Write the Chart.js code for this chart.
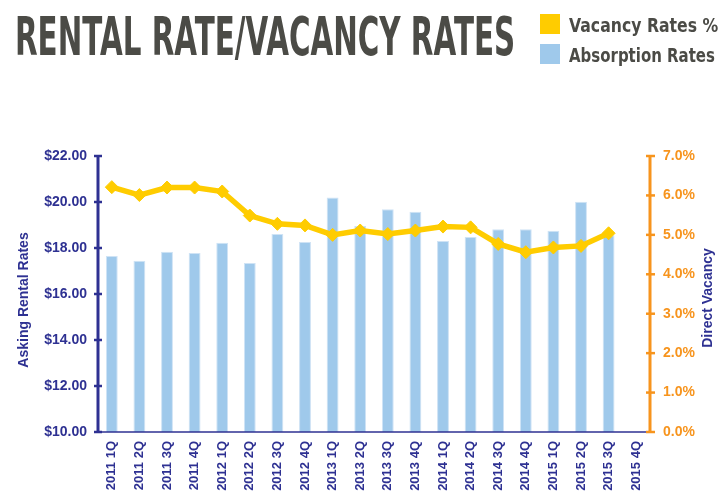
<!DOCTYPE html>
<html>
<head>
<meta charset="utf-8">
<script src="https://cdn.jsdelivr.net/npm/chart.js@4.4.1/dist/chart.umd.min.js"></script>
<style>
  html, body { margin: 0; padding: 0; background: #fff; }
  #wrap { position: relative; width: 720px; height: 491px; overflow: hidden; }
  #chart { position: absolute; left: 0; top: 0; }
  .fit { position: absolute; white-space: nowrap; transform-origin: 0 0; line-height: 1;
         font-family: "DejaVu Sans", sans-serif; font-weight: bold; color: #4b4b46; }
  .sw { position: absolute; left: 540px; width: 20px; height: 20px; }
</style>
</head>
<body>
<div id="wrap">
  <canvas id="chart" width="720" height="491"></canvas>
  <div class="fit" id="title" data-w="500" style="left:15px;top:9.7px;font-size:53.5px;">RENTAL RATE/VACANCY RATES</div>
  <div class="sw" style="top:14px;background:#ffcc00;"></div>
  <div class="sw" style="top:44px;background:#9fc9eb;"></div>
  <div class="fit" data-w="149" style="left:569px;top:15.4px;font-size:20px;">Vacancy Rates %</div>
  <div class="fit" data-w="146" style="left:569px;top:45.4px;font-size:20px;">Absorption Rates</div>
</div>
<script>
// data
const quarters = [
  '2011 1Q', '2011 2Q', '2011 3Q', '2011 4Q',
  '2012 1Q', '2012 2Q', '2012 3Q', '2012 4Q',
  '2013 1Q', '2013 2Q', '2013 3Q', '2013 4Q',
  '2014 1Q', '2014 2Q', '2014 3Q', '2014 4Q',
  '2015 1Q', '2015 2Q', '2015 3Q', '2015 4Q'
];
// asking rental rate ($) - bars on left axis
const absorptionRates = [17.65, 17.45, 17.84, 17.78, 18.23, 17.35, 18.61, 18.26, 20.20, 18.96,
                         19.68, 19.58, 18.30, 18.48, 18.81, 18.81, 18.75, 20.01, 18.55, null];
// direct vacancy (%) - line on right axis
const vacancyRates = [6.21, 6.01, 6.20, 6.20, 6.10, 5.49, 5.28, 5.24, 5.00, 5.11,
                      5.02, 5.11, 5.21, 5.19, 4.77, 4.56, 4.68, 4.72, 5.04, null];
const leftTicks = [10, 12, 14, 16, 18, 20, 22];
const rightTicks = [0, 1, 2, 3, 4, 5, 6, 7];

const NAVY = '#2e3192';
const ORANGE = '#f7941d';
const FONT = "'Liberation Sans', Arial, sans-serif";

// squeeze the html texts to the reference width (condensed look)
document.querySelectorAll('.fit').forEach(el => {
  const w = parseFloat(el.dataset.w);
  el.style.transform = 'scaleX(' + (w / el.offsetWidth) + ')';
});

// axis lines with cross ticks + axis titles
const axisPlugin = {
  id: 'axisPlugin',
  afterDatasetsDraw(chart) {
    const { ctx, chartArea: a, scales } = chart;
    ctx.save();
    // category axis
    ctx.strokeStyle = NAVY;
    ctx.lineWidth = 1.5;
    ctx.beginPath(); ctx.moveTo(a.left, a.bottom); ctx.lineTo(a.right, a.bottom); ctx.stroke();
    // left axis
    ctx.lineWidth = 3;
    ctx.beginPath(); ctx.moveTo(a.left, a.top); ctx.lineTo(a.left, a.bottom); ctx.stroke();
    ctx.lineWidth = 2.5;
    leftTicks.forEach(v => {
      const y = scales.y.getPixelForValue(v);
      ctx.beginPath(); ctx.moveTo(a.left - 4, y); ctx.lineTo(a.left + 4, y); ctx.stroke();
    });
    // right axis
    ctx.strokeStyle = ORANGE;
    ctx.lineWidth = 3;
    ctx.beginPath(); ctx.moveTo(a.right, a.top); ctx.lineTo(a.right, a.bottom); ctx.stroke();
    ctx.lineWidth = 2.5;
    rightTicks.forEach(v => {
      const y = scales.y1.getPixelForValue(v);
      ctx.beginPath(); ctx.moveTo(a.right - 4, y); ctx.lineTo(a.right + 5, y); ctx.stroke();
    });
    // titles
    ctx.fillStyle = NAVY;
    ctx.font = 'bold 14px ' + FONT;
    ctx.textAlign = 'center';
    ctx.textBaseline = 'middle';
    ctx.translate(24, 300); ctx.rotate(-Math.PI / 2);
    ctx.fillText('Asking Rental Rates', 0, 0);
    ctx.setTransform(1, 0, 0, 1, 0, 0);
    ctx.translate(708, 298); ctx.rotate(-Math.PI / 2);
    ctx.fillText('Direct Vacancy', 0, 0);
    ctx.restore();
  }
};

new Chart(document.getElementById('chart'), {
  data: {
    labels: quarters,
    datasets: [
      {
        type: 'line',
        label: 'Vacancy Rates %',
        data: vacancyRates,
        yAxisID: 'y1',
        borderColor: '#ffcc00',
        backgroundColor: '#ffcc00',
        borderWidth: 5.5,
        pointStyle: 'rectRot',
        pointRadius: 6.5,
        pointBorderWidth: 1,
        pointBorderColor: '#ffcc00',
        tension: 0,
        order: 0
      },
      {
        type: 'bar',
        label: 'Absorption Rates',
        data: absorptionRates,
        yAxisID: 'y',
        backgroundColor: '#9fc9eb',
        borderColor: '#cfe3f5',
        borderWidth: 1,
        categoryPercentage: 1,
        barPercentage: 0.43,
        order: 1
      }
    ]
  },
  options: {
    responsive: false,
    animation: false,
    layout: { padding: { top: 156, left: 0, right: 0, bottom: 0 } },
    plugins: { legend: { display: false }, tooltip: { enabled: false } },
    scales: {
      x: {
        grid: { display: false, drawTicks: false },
        border: { display: false },
        ticks: {
          autoSkip: false, minRotation: 90, maxRotation: 90, padding: 9,
          color: NAVY, font: { family: FONT, size: 13, weight: 'bold' }
        },
        afterFit(scale) { scale.height = 59; }
      },
      y: {
        position: 'left',
        min: 10, max: 22,
        grid: { display: false, drawTicks: false },
        border: { display: false },
        afterBuildTicks(scale) { scale.ticks = leftTicks.map(v => ({ value: v })); },
        ticks: {
          padding: 11, color: NAVY,
          font: { family: FONT, size: 14, weight: 'bold' },
          callback: v => '$' + Number(v).toFixed(2)
        },
        afterFit(scale) { scale.width = 98; }
      },
      y1: {
        position: 'right',
        min: 0, max: 7,
        grid: { display: false, drawTicks: false },
        border: { display: false },
        afterBuildTicks(scale) { scale.ticks = rightTicks.map(v => ({ value: v })); },
        ticks: {
          padding: 13, color: ORANGE,
          font: { family: FONT, size: 14, weight: 'bold' },
          callback: v => Number(v).toFixed(1) + '%'
        },
        afterFit(scale) { scale.width = 70; }
      }
    }
  },
  plugins: [axisPlugin]
});
</script>
</body>
</html>
